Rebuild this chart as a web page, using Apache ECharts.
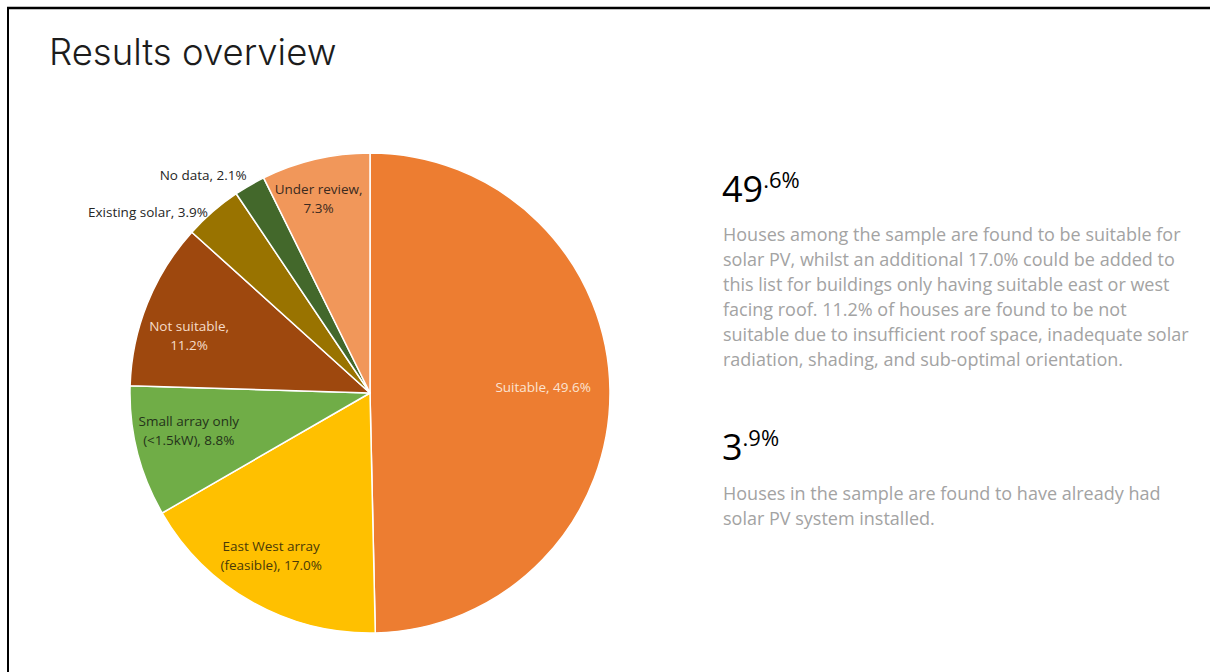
<!DOCTYPE html>
<html>
<head>
<meta charset="utf-8">
<script src="https://cdn.jsdelivr.net/npm/echarts@6/dist/echarts.min.js"></script>
<style>
  html, body { margin: 0; padding: 0; background: #fff; }
  #chart { width: 1210px; height: 672px; }
</style>
</head>
<body>
<div id="chart"></div>
<script>
// Survey outcome shares (percent of houses), clockwise from 12 o'clock
const categories = [
  'Suitable',
  'East West array (feasible)',
  'Small array only (<1.5kW)',
  'Not suitable',
  'Existing solar',
  'No data',
  'Under review'
];
const shares = [49.6, 17.0, 8.8, 11.2, 3.9, 2.1, 7.3];
const sliceColors = ['#ED7D31', '#FFC000', '#70AD47', '#9E480E', '#997300', '#43682B', '#F1975A'];
const labelColors = ['#FBE3D2', '#4A3A08', '#24331A', '#F6DCC9', '#262626', '#262626', '#3A2A20'];

// Where each slice label wraps onto a second line
const labelBreaks = ['', 'array ', 'only ', ', ', '', '', ', '];

// Label placement: fraction of the radius along the slice's mid-angle, plus nudges
const labelPlace = [
  { f: 0.73, dy: -4, dx: -2 },
  { f: 0.78, dx: -7, dy: -1 },
  { f: 0.80, dx: 5, dy: -9 },
  { f: 0.79, dx: -5, dy: 13 },
  { f: 1.0, align: 'right', vAlign: 'middle', dx: -5, dy: 0 },
  { f: 1.0, align: 'right', vAlign: 'bottom', dx: -3, dy: -1 },
  { f: 0.85, dx: -5, dy: 4 }
];

const CX = 370, CY = 393, R = 240;
const total = shares.reduce((a, b) => a + b, 0);
const midAngles = [];
let acc = 0;
shares.forEach(v => { midAngles.push(2 * Math.PI * (acc + v / 2) / total); acc += v; });

const pct = v => v.toFixed(1) + '%';
function labelText(i) {
  let t = categories[i] + ', ' + pct(shares[i]);
  const b = labelBreaks[i];
  if (b) {
    const k = t.indexOf(b);
    t = t.slice(0, k + b.length).replace(/ $/, '') + '\n' + t.slice(k + b.length);
  }
  return t;
}

// Headline figures split into whole part and decimal superscript
function splitPct(v) {
  const s = v.toFixed(1).split('.');
  return '{n|' + s[0] + '}{s|.' + s[1] + '%}';
}
const iSuit = 0, iEW = 1, iNot = 3, iExist = 4;

const bodyFont = '"Open Sans", "Noto Sans", sans-serif';
const desc1 = [
  'Houses among the sample are found to be suitable for',
  'solar PV, whilst an additional ' + pct(shares[iEW]) + ' could be added to',
  'this list for buildings only having suitable east or west',
  'facing roof. ' + pct(shares[iNot]) + ' of houses are found to be not',
  'suitable due to insufficient roof space, inadequate solar',
  'radiation, shading, and sub-optimal orientation.'
].join('\n');
const desc2 = [
  'Houses in the sample are found to have already had',
  'solar PV system installed.'
].join('\n');

const bigRich = {
  n: { fontFamily: bodyFont, fontSize: 36, fontWeight: 400, color: '#1e1e1e', lineHeight: 40 },
  s: { fontFamily: bodyFont, fontSize: 22, fontWeight: 400, color: '#1e1e1e', verticalAlign: 'top', lineHeight: 20 }
};

const chart = echarts.init(document.getElementById('chart'), null, { renderer: 'svg' });
chart.setOption({
  animation: false,
  backgroundColor: '#ffffff',
  graphic: [
    { type: 'line', shape: { x1: 7, y1: 8, x2: 1210, y2: 8 }, style: { stroke: '#000', lineWidth: 2.5 } },
    { type: 'line', shape: { x1: 8, y1: 7, x2: 8, y2: 672 }, style: { stroke: '#000', lineWidth: 2 } },
    {
      type: 'text', left: 49, top: 33,
      style: { text: 'Results overview', font: '300 36.5px Inter, "Noto Sans", sans-serif', fill: '#1c1c1c' }
    },
    {
      type: 'text', left: 722, top: 168,
      style: { text: splitPct(shares[iSuit]), rich: bigRich }
    },
    {
      type: 'text', left: 723, top: 221,
      style: { text: desc1, font: '400 18px ' + bodyFont, fill: '#a3a3a3', lineHeight: 25 }
    },
    {
      type: 'text', left: 722, top: 426,
      style: { text: splitPct(shares[iExist]), rich: bigRich }
    },
    {
      type: 'text', left: 723, top: 480,
      style: { text: desc2, font: '400 18px ' + bodyFont, fill: '#a3a3a3', lineHeight: 25 }
    }
  ],
  series: [{
    type: 'pie',
    center: [CX, CY],
    radius: R,
    startAngle: 90,
    clockwise: true,
    silent: true,
    itemStyle: { borderColor: '#ffffff', borderWidth: 1.5 },
    label: {
      show: true,
      position: 'inside',
      fontFamily: bodyFont,
      fontSize: 13.5,
      lineHeight: 19,
      align: 'center',
      formatter: p => labelText(p.dataIndex)
    },
    labelLine: { show: false },
    labelLayout: params => {
      const i = params.dataIndex;
      const pl = labelPlace[i];
      const a = midAngles[i];
      return {
        x: CX + R * pl.f * Math.sin(a) + (pl.dx || 0),
        y: CY - R * pl.f * Math.cos(a) + (pl.dy || 0),
        align: pl.align || 'center',
        verticalAlign: pl.vAlign || 'middle'
      };
    },
    data: categories.map((name, i) => ({
      name,
      value: shares[i],
      itemStyle: { color: sliceColors[i] },
      label: { color: labelColors[i] }
    }))
  }]
});
</script>
</body>
</html>
